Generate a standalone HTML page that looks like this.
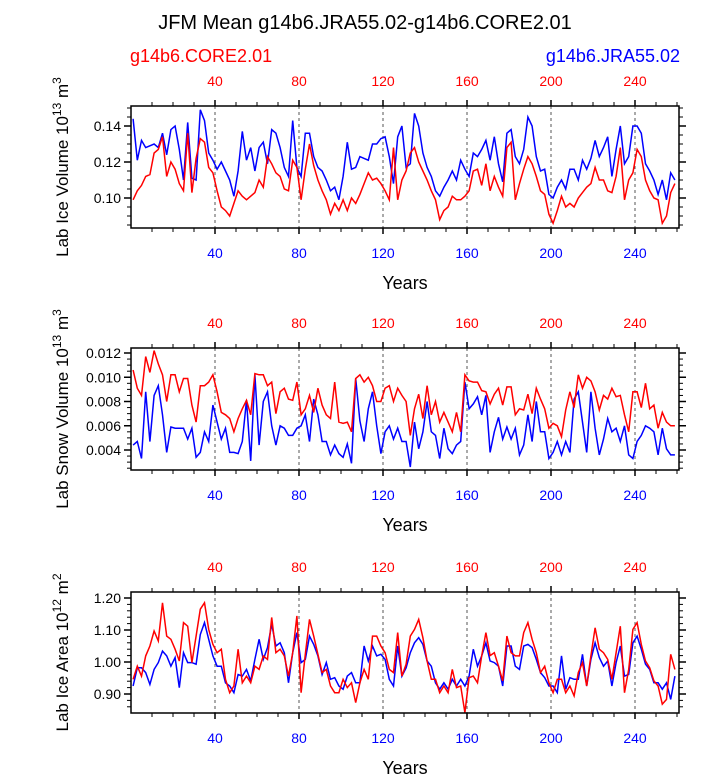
<!DOCTYPE html>
<html><head><meta charset="utf-8"><style>
body{margin:0;background:#fff;}
svg{display:block;font-family:"Liberation Sans",sans-serif;}
</style></head><body>
<svg id="chart" width="723" height="775" viewBox="0 0 723 775">
<text x="365" y="29" text-anchor="middle" font-size="20">JFM Mean g14b6.JRA55.02-g14b6.CORE2.01</text>
<text x="130" y="62" font-size="18" fill="#ff0000">g14b6.CORE2.01</text>
<text x="680" y="62" font-size="18" fill="#0000ff" text-anchor="end">g14b6.JRA55.02</text>
</svg>
<script>
const years = [];
for (let t = 1; t <= 259; t += 2) years.push(t);
const xTicks = [40, 80, 120, 160, 200, 240];

const iceVolRed = [0.099,0.104,0.107,0.112,0.113,0.125,0.127,0.134,0.112,0.120,0.116,0.108,0.104,0.136,0.103,0.122,0.133,0.131,0.117,0.114,0.104,0.095,0.093,0.090,0.097,0.104,0.101,0.099,0.101,0.103,0.110,0.106,0.123,0.119,0.114,0.112,0.105,0.104,0.121,0.117,0.099,0.116,0.130,0.118,0.110,0.104,0.099,0.091,0.097,0.093,0.099,0.093,0.100,0.097,0.102,0.108,0.114,0.110,0.111,0.108,0.104,0.099,0.128,0.099,0.110,0.115,0.125,0.128,0.120,0.115,0.110,0.104,0.099,0.088,0.093,0.095,0.101,0.099,0.099,0.101,0.104,0.115,0.116,0.107,0.119,0.104,0.112,0.106,0.101,0.128,0.131,0.099,0.108,0.116,0.123,0.119,0.112,0.104,0.102,0.091,0.086,0.093,0.101,0.095,0.097,0.095,0.100,0.103,0.106,0.108,0.117,0.110,0.110,0.104,0.103,0.112,0.128,0.099,0.110,0.114,0.127,0.123,0.110,0.104,0.100,0.099,0.086,0.090,0.103,0.108];
const iceVolBlue = [0.144,0.121,0.132,0.128,0.129,0.130,0.128,0.136,0.124,0.138,0.140,0.127,0.110,0.142,0.111,0.110,0.149,0.143,0.125,0.121,0.116,0.120,0.115,0.110,0.101,0.115,0.137,0.121,0.128,0.115,0.128,0.131,0.119,0.138,0.136,0.128,0.117,0.112,0.143,0.117,0.112,0.136,0.136,0.123,0.117,0.115,0.110,0.104,0.106,0.099,0.112,0.131,0.116,0.117,0.123,0.122,0.121,0.130,0.130,0.133,0.134,0.123,0.108,0.134,0.140,0.117,0.119,0.147,0.140,0.125,0.117,0.112,0.104,0.101,0.106,0.110,0.115,0.110,0.121,0.116,0.112,0.125,0.123,0.127,0.132,0.121,0.134,0.119,0.109,0.136,0.138,0.123,0.119,0.127,0.145,0.140,0.123,0.115,0.116,0.102,0.100,0.106,0.110,0.105,0.116,0.116,0.110,0.121,0.116,0.122,0.132,0.123,0.128,0.134,0.112,0.127,0.140,0.119,0.123,0.140,0.140,0.136,0.119,0.115,0.110,0.102,0.110,0.099,0.114,0.110];

const snowRed = [0.0106,0.0091,0.0085,0.0117,0.0104,0.0122,0.0111,0.0102,0.0080,0.0102,0.0102,0.0088,0.0099,0.0099,0.0077,0.0063,0.0093,0.0093,0.0096,0.0102,0.0088,0.0071,0.0069,0.0066,0.0055,0.0066,0.0074,0.0081,0.0069,0.0103,0.0102,0.0102,0.0093,0.0096,0.0070,0.0088,0.0091,0.0082,0.0081,0.0096,0.0069,0.0074,0.0085,0.0071,0.0091,0.0077,0.0069,0.0066,0.0096,0.0063,0.0062,0.0063,0.0055,0.0099,0.0102,0.0096,0.0100,0.0093,0.0080,0.0080,0.0091,0.0093,0.0080,0.0091,0.0085,0.0080,0.0052,0.0074,0.0086,0.0066,0.0093,0.0069,0.0080,0.0063,0.0071,0.0063,0.0055,0.0071,0.0055,0.0102,0.0097,0.0096,0.0096,0.0089,0.0088,0.0078,0.0086,0.0091,0.0077,0.0092,0.0092,0.0069,0.0074,0.0073,0.0086,0.0070,0.0091,0.0082,0.0074,0.0058,0.0062,0.0060,0.0051,0.0073,0.0088,0.0075,0.0102,0.0091,0.0100,0.0097,0.0088,0.0073,0.0085,0.0082,0.0091,0.0084,0.0085,0.0069,0.0055,0.0088,0.0088,0.0075,0.0095,0.0074,0.0077,0.0058,0.0071,0.0063,0.0060,0.0060];
const snowBlue = [0.0044,0.0047,0.0033,0.0088,0.0047,0.0085,0.0093,0.0069,0.0038,0.0059,0.0058,0.0058,0.0058,0.0049,0.0058,0.0034,0.0038,0.0055,0.0047,0.0077,0.0063,0.0049,0.0058,0.0038,0.0038,0.0037,0.0047,0.0081,0.0031,0.0102,0.0044,0.0080,0.0088,0.0060,0.0044,0.0060,0.0058,0.0052,0.0052,0.0058,0.0060,0.0069,0.0047,0.0082,0.0069,0.0047,0.0047,0.0036,0.0044,0.0037,0.0034,0.0045,0.0029,0.0099,0.0064,0.0047,0.0074,0.0088,0.0060,0.0037,0.0055,0.0060,0.0049,0.0058,0.0047,0.0047,0.0026,0.0063,0.0041,0.0055,0.0080,0.0055,0.0052,0.0033,0.0058,0.0041,0.0037,0.0044,0.0047,0.0096,0.0074,0.0078,0.0084,0.0069,0.0085,0.0038,0.0055,0.0067,0.0049,0.0059,0.0049,0.0058,0.0036,0.0044,0.0069,0.0047,0.0080,0.0055,0.0055,0.0033,0.0038,0.0047,0.0036,0.0047,0.0038,0.0082,0.0088,0.0063,0.0038,0.0088,0.0058,0.0036,0.0049,0.0066,0.0055,0.0058,0.0047,0.0060,0.0036,0.0033,0.0047,0.0052,0.0060,0.0058,0.0055,0.0036,0.0058,0.0041,0.0036,0.0036];

const areaRed = [0.946,0.987,0.956,1.019,1.050,1.097,1.066,1.185,1.081,1.071,1.040,1.003,1.123,1.112,0.998,1.081,1.165,1.185,1.102,1.055,1.029,1.040,0.946,0.904,0.925,1.040,0.935,0.956,0.935,0.987,0.977,1.019,1.008,1.139,1.029,1.040,1.019,0.956,1.029,1.144,0.904,1.024,1.133,1.081,1.024,0.967,0.977,0.925,0.904,0.904,0.946,0.920,0.935,0.873,0.935,0.977,0.946,1.081,1.081,1.050,1.029,0.977,0.967,1.092,0.956,0.993,1.081,1.102,1.133,1.076,1.003,0.946,0.946,0.904,0.925,0.904,0.977,0.920,0.925,0.842,0.951,0.956,0.935,1.019,1.092,1.020,1.029,0.987,0.941,1.081,1.029,1.019,1.019,1.092,1.123,1.071,1.029,0.967,0.987,0.935,0.904,0.946,0.946,0.904,0.925,0.894,0.967,0.998,0.925,1.019,1.107,1.040,1.029,1.008,0.946,1.029,1.112,0.904,0.977,1.102,1.123,1.055,1.003,0.982,0.941,0.925,0.868,0.883,1.024,0.977];
const areaBlue = [0.925,0.982,0.982,0.967,0.930,0.977,0.998,1.034,1.019,0.987,1.014,0.920,1.029,0.998,0.998,0.993,1.086,1.123,1.071,1.019,0.987,0.987,0.935,0.925,0.904,0.961,0.956,0.977,0.941,1.008,1.071,1.008,1.045,1.118,1.050,1.060,1.029,0.935,1.029,1.092,0.998,1.008,1.081,1.055,1.019,0.961,0.998,0.946,0.951,0.925,0.915,0.956,0.967,0.935,0.935,1.050,1.003,1.050,1.019,1.024,1.008,0.946,0.925,1.050,0.956,0.982,1.029,1.060,1.076,1.055,1.003,0.987,0.935,0.915,0.935,0.915,0.946,0.925,0.946,0.925,0.956,1.040,0.987,1.019,1.060,1.003,0.998,0.987,0.925,1.050,1.050,0.987,0.977,1.050,1.055,1.045,1.008,0.967,0.951,0.925,0.925,0.904,1.019,0.915,0.951,0.946,0.946,1.024,0.925,1.008,1.060,1.014,0.987,1.003,0.925,0.998,1.050,0.956,0.961,1.060,1.081,1.040,0.993,0.977,0.935,0.935,0.915,0.935,0.883,0.956];

const panel1Ticks = [0.10, 0.12, 0.14];
const panel1Labels = ["0.10", "0.12", "0.14"];
const panel2Ticks = [0.004, 0.006, 0.008, 0.010, 0.012];
const panel2Labels = ["0.004", "0.006", "0.008", "0.010", "0.012"];
const panel3Ticks = [0.90, 1.00, 1.10, 1.20];
const panel3Labels = ["0.90", "1.00", "1.10", "1.20"];

const NS = "http://www.w3.org/2000/svg";
const svg = document.getElementById("chart");
const X0 = 131, X1 = 679;
function xScale(t) { return 131 + 2.1 * t; }
function mk(tag, attrs, parent) {
  const e = document.createElementNS(NS, tag);
  for (const k in attrs) e.setAttribute(k, attrs[k]);
  (parent || svg).appendChild(e);
  return e;
}

const panels = [
  {top:106, bot:228, refV:0.14, refY:126, pxPer:1800, ticks:panel1Ticks, labels:panel1Labels, minor:0.005, red:iceVolRed, blue:iceVolBlue, ytitle:"Lab Ice Volume 10", sup:"13", unit:" m", usup:"3", name:"ice-volume"},
  {top:348, bot:470, refV:0.012, refY:353, pxPer:12125, ticks:panel2Ticks, labels:panel2Labels, minor:0.0005, red:snowRed, blue:snowBlue, ytitle:"Lab Snow Volume 10", sup:"13", unit:" m", usup:"3", name:"snow-volume"},
  {top:592, bot:713, refV:1.2, refY:598, pxPer:320, ticks:panel3Ticks, labels:panel3Labels, minor:0.02, red:areaRed, blue:areaBlue, ytitle:"Lab Ice Area 10", sup:"12", unit:" m", usup:"2", name:"ice-area"}
];

panels.forEach((p, pi) => {
  const g = mk("g", {});
  
  
  const yS = v => p.refY + (p.refV - v) * p.pxPer;
  const clipId = "clip" + pi;
  const cp = mk("clipPath", {id: clipId}, g);
  mk("rect", {x: X0, y: p.top, width: X1 - X0, height: p.bot - p.top}, cp);
  // dashed grid
  xTicks.forEach(t => {
    const l = mk("line", {x1: xScale(t), x2: xScale(t), y1: p.top, y2: p.bot, stroke: "#555", "stroke-width": 1, "stroke-dasharray": "3,3"}, g);
    
    
  });
  // series
  [[p.blue, "#0000ff", "jra55"], [p.red, "#ff0000", "core2"]].forEach(([arr, col, nm]) => {
    let d = "";
    arr.forEach((v, i) => { d += (i ? "L" : "M") + xScale(years[i]).toFixed(1) + "," + yS(v).toFixed(1); });
    const path = mk("path", {d: d, fill: "none", stroke: col, "stroke-width": 1.5, "clip-path": "url(#" + clipId + ")"}, g);
    
    
  });
  // frame
  const fr = mk("rect", {x: X0, y: p.top, width: X1 - X0, height: p.bot - p.top, fill: "none", stroke: "#000", "stroke-width": 1.5}, g);
  
  
  // x ticks
  for (let t = 10; t <= 260; t += 10) {
    const major = t % 40 === 0;
    const len = major ? 6 : 4;
    mk("line", {x1: xScale(t), x2: xScale(t), y1: p.top, y2: p.top - len, stroke: "#000", "stroke-width": major ? 1.5 : 1}, g);
    mk("line", {x1: xScale(t), x2: xScale(t), y1: p.bot, y2: p.bot + len, stroke: "#000", "stroke-width": major ? 1.5 : 1}, g);
  }
  xTicks.forEach(t => {
    const a = mk("text", {x: xScale(t), y: p.top - 20, "text-anchor": "middle", "font-size": 14, fill: "#ff0000"}, g);
    a.textContent = t;
    
    
    const b = mk("text", {x: xScale(t), y: p.bot + 30, "text-anchor": "middle", "font-size": 14, fill: "#0000ff"}, g);
    b.textContent = t;
    
    
  });
  const xt = mk("text", {x: 405, y: p.bot + 61, "text-anchor": "middle", "font-size": 18}, g);
  xt.textContent = "Years";
  
  
  // y minor ticks
  const vTop = p.refV + (p.refY - p.top) / p.pxPer, vBot = p.refV - (p.bot - p.refY) / p.pxPer;
  const k0 = Math.ceil(vBot / p.minor - 1e-6), k1 = Math.floor(vTop / p.minor + 1e-6);
  for (let k = k0; k <= k1; k++) {
    const y = yS(k * p.minor);
    mk("line", {x1: X0, x2: X0 - 4, y1: y, y2: y, stroke: "#000", "stroke-width": 1}, g);
    mk("line", {x1: X1, x2: X1 + 4, y1: y, y2: y, stroke: "#000", "stroke-width": 1}, g);
  }
  p.ticks.forEach((v, i) => {
    const y = yS(v);
    mk("line", {x1: X0, x2: X0 - 7, y1: y, y2: y, stroke: "#000", "stroke-width": 1.5}, g);
    mk("line", {x1: X1, x2: X1 + 7, y1: y, y2: y, stroke: "#000", "stroke-width": 1.5}, g);
    const tl = mk("text", {x: X0 - 10, y: y + 5, "text-anchor": "end", "font-size": 14}, g);
    tl.textContent = p.labels[i];
    
    
  });
  // y title
  const cy = (p.top + p.bot) / 2;
  const yt = mk("text", {x: 0, y: 0, "text-anchor": "middle", "font-size": 17, transform: "translate(68," + cy + ") rotate(-90)"}, g);
  
  
  const s1 = mk("tspan", {}, yt); s1.textContent = p.ytitle;
  const s2 = mk("tspan", {dy: -7, "font-size": 12}, yt); s2.textContent = p.sup;
  const s3 = mk("tspan", {dy: 7}, yt); s3.textContent = p.unit;
  const s4 = mk("tspan", {dy: -7, "font-size": 12}, yt); s4.textContent = p.usup;
});
</script>
</body></html>
